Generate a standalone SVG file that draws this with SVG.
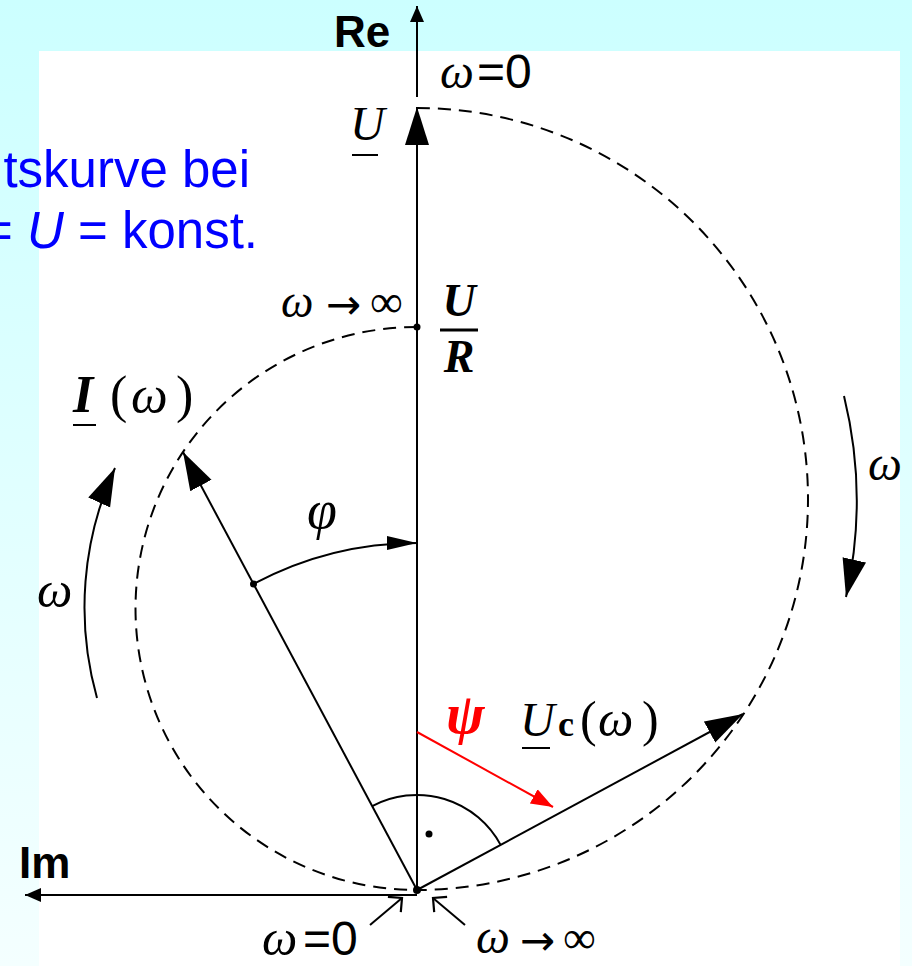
<svg xmlns="http://www.w3.org/2000/svg" width="912" height="966" viewBox="0 0 912 966">
<defs>
<linearGradient id="bg" x1="0" y1="0" x2="0" y2="1">
<stop offset="0" stop-color="#ccffff"/>
<stop offset="1" stop-color="#f4ffff"/>
</linearGradient>
<marker id="big" markerUnits="userSpaceOnUse" markerWidth="40" markerHeight="26" viewBox="0 0 40 26" refX="38" refY="13" orient="auto">
<path d="M0,1 L38,13 L0,25 Z" fill="#000"/>
</marker>
<marker id="med" markerUnits="userSpaceOnUse" markerWidth="32" markerHeight="16" viewBox="0 0 32 16" refX="30" refY="8" orient="auto">
<path d="M0,1 L30,8 L0,15 Z" fill="#000"/>
</marker>
<marker id="axis" markerUnits="userSpaceOnUse" markerWidth="18" markerHeight="18" viewBox="0 0 18 18" refX="16" refY="9" orient="auto">
<path d="M0,2 L16,9 L0,16 Z" fill="#000"/>
</marker>
<marker id="red" markerUnits="userSpaceOnUse" markerWidth="24" markerHeight="20" viewBox="0 0 24 20" refX="22" refY="10" orient="auto">
<path d="M0,2 L22,10 L0,18 Z" fill="#ff0000"/>
</marker>
<marker id="open" markerUnits="userSpaceOnUse" markerWidth="20" markerHeight="24" viewBox="0 0 20 24" refX="18" refY="12" orient="auto">
<path d="M8,2 L18,12 L8,22" fill="none" stroke="#000" stroke-width="2.2"/>
</marker>
</defs>
<style>
.ln{stroke:#000;stroke-width:2;fill:none}
.dash{stroke:#000;stroke-width:2;fill:none;stroke-dasharray:13 8}
.sans{font-family:"Liberation Sans",Arial,sans-serif}
.bold{font-weight:bold}
.mi{font-family:"Liberation Serif","Times New Roman",serif;font-style:italic}
.rm{font-family:"Liberation Serif","Times New Roman",serif}
.arr{font-family:"DejaVu Sans",sans-serif}
.blue{fill:#0000ff;font-family:"Liberation Sans",Arial,sans-serif;font-size:51px}
text{fill:#000}
</style>
<rect x="0" y="0" width="912" height="966" fill="url(#bg)"/>
<rect x="39" y="51" width="861" height="915" fill="#ffffff"/>

<g id="title">
<text class="blue" x="250" y="187" text-anchor="end" style="fill:#0000ff">tskurve bei</text>
<text class="blue" x="258" y="248" text-anchor="end" style="fill:#0000ff">= <tspan font-style="italic">U</tspan> = konst.</text>
</g>

<g id="loci">
<path id="locus-I" class="dash" d="M417,327 A281.5,281.5 0 0 0 417,890"/>
<path id="locus-Uc" class="dash" d="M417,108 A391,391 0 0 1 417,890"/>
</g>

<g id="connectors">
<line id="re-axis" class="ln" x1="417" y1="97" x2="417" y2="6" marker-end="url(#axis)"/>
<line id="im-axis" class="ln" x1="417" y1="895" x2="25" y2="895" marker-end="url(#axis)"/>
<line id="U-vec" class="ln" x1="417" y1="890" x2="417" y2="107" marker-end="url(#big)"/>
<line id="I-vec" class="ln" x1="417" y1="890" x2="183" y2="452" marker-end="url(#big)"/>
<line id="Uc-vec" class="ln" x1="417" y1="890" x2="743" y2="714" marker-end="url(#big)"/>
<path id="phi-arc" class="ln" d="M253.5,584 A347,347 0 0 1 417,543" marker-end="url(#med)"/>
<path id="right-angle" class="ln" d="M372.2,806.2 A95,95 0 0 1 500.6,844.9"/>
<path id="omega-left" class="ln" d="M97,698 A334,334 0 0 1 115,468" marker-end="url(#big)"/>
<path id="omega-right" class="ln" d="M844,396 A440,440 0 0 1 846,597" marker-end="url(#big)"/>
<line id="psi-arrow" x1="417" y1="732" x2="553" y2="807" stroke="#ff0000" stroke-width="2" marker-end="url(#red)"/>
<line id="w0-arrow" class="ln" x1="370" y1="925" x2="402" y2="898" marker-end="url(#open)"/>
<line id="winf-arrow" class="ln" x1="465" y1="925" x2="433" y2="898" marker-end="url(#open)"/>
</g>

<g id="dots" fill="#000">
<circle cx="417" cy="890" r="4"/>
<circle cx="417" cy="327" r="3.5"/>
<circle cx="253.5" cy="584" r="3.5"/>
<circle cx="429" cy="834" r="3.5"/>
</g>

<g id="labels">
<text class="sans bold" x="334" y="47" font-size="44">Re</text>
<text class="sans bold" x="19" y="878" font-size="44">Im</text>

<g id="label-w0-top"><text y="88"><tspan class="mi" x="440" font-size="48">ω</tspan><tspan class="sans" x="477" font-size="48">=0</tspan></text></g>
<g id="label-U"><text class="mi" x="350" y="140" font-size="48">U</text><line class="ln" x1="352" y1="155" x2="378" y2="155"/></g>
<g id="label-winf-top"><text y="317"><tspan class="mi" x="281" font-size="46">ω</tspan><tspan class="arr" x="326" y="319" font-size="42">→</tspan><tspan class="rm" x="370" y="317" font-size="46">∞</tspan></text></g>
<g id="label-UR">
<text class="mi bold" x="459" y="316" font-size="46" text-anchor="middle">U</text>
<line x1="440" y1="330" x2="478" y2="330" stroke="#000" stroke-width="3"/>
<text class="mi bold" x="459" y="372" font-size="46" text-anchor="middle">R</text>
</g>
<g id="label-I"><text y="412"><tspan class="mi bold" x="73" font-size="52">I</tspan><tspan class="rm" x="110" font-size="52">(</tspan><tspan class="mi" x="131" font-size="52">ω</tspan><tspan class="rm" x="176" font-size="52">)</tspan></text><line class="ln" x1="73" y1="425" x2="96" y2="425"/></g>
<text class="mi" x="307" y="528" font-size="54">φ</text>
<text class="mi" x="37" y="607" font-size="50">ω</text>
<text class="mi" x="868" y="480" font-size="48">ω</text>
<text class="mi bold" x="446" y="733" font-size="58" style="fill:#ff0000">ψ</text>
<g id="label-Uc"><text y="736"><tspan class="mi" x="520" font-size="48">U</tspan><tspan class="rm bold" x="558" font-size="36">c</tspan><tspan class="rm" x="580" font-size="50">(</tspan><tspan class="mi" x="598" font-size="50">ω</tspan><tspan class="rm" x="642" font-size="50">)</tspan></text><line class="ln" x1="522" y1="748" x2="550" y2="748"/></g>
<g id="label-w0-bottom"><text y="955"><tspan class="mi" x="262" font-size="50">ω</tspan><tspan class="sans" x="303" font-size="48">=0</tspan></text></g>
<g id="label-winf-bottom"><text y="953"><tspan class="mi" x="476" font-size="48">ω</tspan><tspan class="arr" x="520" y="955" font-size="42">→</tspan><tspan class="rm" x="563" y="953" font-size="46">∞</tspan></text></g>
</g>
</svg>
